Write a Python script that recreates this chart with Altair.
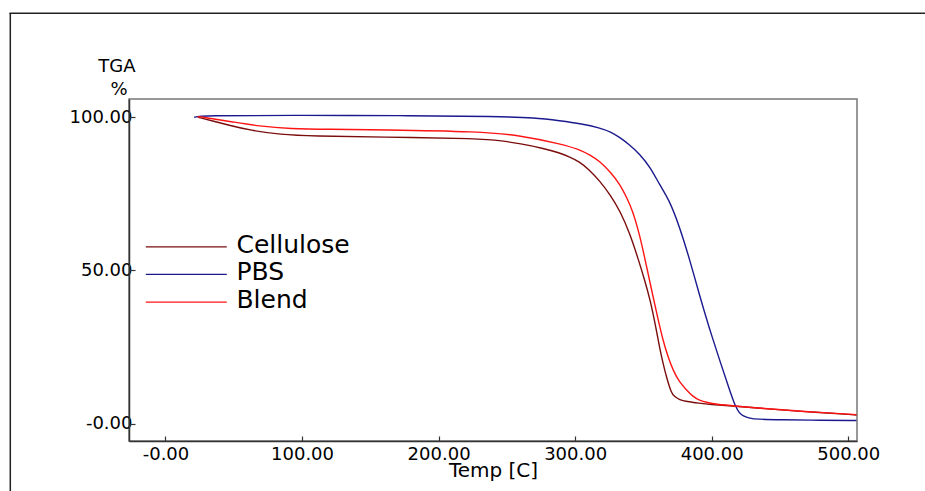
import altair as alt
import pandas as pd

# ---------------- data ----------------
series_names = ["Cellulose", "PBS", "Blend"]
series_colors = ["#7a0c0c", "#1a1a8e", "#ff1414"]

cellulose_temp = [23.6, 25.0, 35.0, 47.0, 62.0, 84.0, 108.0, 157.0, 231.0, 246.0, 260.0,
                  275.0, 289.0, 296.0, 303.0, 310.0, 318.0, 326.0, 333.0, 340.0, 346.0,
                  350.5, 355.0, 359.4, 362.0, 364.5, 366.8, 370.4, 372.8, 376.5, 381.4,
                  391.0, 398.0, 417.0, 440.0, 470.0, 506.0]
cellulose_pct = [100.0, 99.8, 98.7, 97.3, 95.7, 94.3, 93.8, 93.5, 93.0, 92.3, 91.3,
                 90.0, 88.3, 87.0, 85.5, 83.0, 79.2, 74.5, 69.3, 62.1, 54.0,
                 47.5, 40.4, 30.8, 24.5, 19.5, 15.4, 10.0, 8.9, 7.8, 7.3,
                 6.7, 6.3, 5.8, 4.9, 3.9, 2.9]

pbs_temp = [21.0, 25.0, 100.0, 170.0, 245.0, 270.0, 289.0, 305.0, 318.0, 326.0, 333.0,
            340.0, 347.0, 355.0, 362.0, 369.0, 376.5, 384.0, 391.0, 398.0, 406.0,
            413.0, 417.0, 420.0, 423.0, 428.0, 433.0, 450.0, 480.0, 506.0]
pbs_pct = [99.9, 100.5, 100.6, 100.5, 100.2, 99.8, 98.8, 97.8, 96.5, 95.2, 93.3,
           90.9, 88.1, 83.7, 77.8, 72.9, 64.2, 53.4, 42.0, 31.5, 20.5,
           11.1, 6.0, 3.6, 2.5, 1.8, 1.5, 1.3, 1.15, 1.07]

blend_temp = [23.6, 25.0, 32.0, 47.0, 69.0, 91.0, 120.0, 157.0, 231.0, 260.0, 289.0,
              303.0, 311.0, 318.0, 326.0, 333.0, 338.0, 342.0, 347.0, 352.0, 357.0,
              361.0, 364.3, 368.0, 371.6, 376.0, 381.4, 386.0, 391.0, 397.0, 403.0,
              417.0, 440.0, 470.0, 506.0]
blend_pct = [100.0, 100.2, 99.6, 98.6, 97.0, 96.2, 96.0, 95.9, 95.3, 94.0, 91.3,
             89.5, 87.6, 85.6, 82.0, 78.0, 73.5, 69.6, 62.1, 52.0, 41.5,
             33.5, 27.3, 21.8, 17.6, 13.8, 11.1, 9.0, 7.6, 6.9, 6.4,
             5.8, 4.9, 3.95, 3.0]

x_ticks = [0, 100, 200, 300, 400, 500]
y_ticks = [0, 50, 100]

# ---------------- tables ----------------
rows = []
for name, ts, ps in [("Cellulose", cellulose_temp, cellulose_pct),
                     ("PBS", pbs_temp, pbs_pct),
                     ("Blend", blend_temp, blend_pct)]:
    for i, (t, p) in enumerate(zip(ts, ps)):
        rows.append({"series": name, "temp": t, "pct": p, "idx": i})
df = pd.DataFrame(rows)

# legend (placed in data coordinates, upper-left inside the plot)
leg_x1, leg_x2, leg_xt = -14.4, 44.9, 52.0
leg_y0, leg_dy = 57.7, 9.0
legend_df = pd.DataFrame({
    "series": series_names,
    "x1": [leg_x1] * 3,
    "x2": [leg_x2] * 3,
    "xt": [leg_xt] * 3,
    "y": [leg_y0 - i * leg_dy for i in range(3)],
})

W, H = 728, 342
FONT = "DejaVu Sans"
label_expr = "datum.value == 0 ? '-0.00' : format(datum.value, '.2f')"

xscale = alt.Scale(domain=[-26.7, 506.4], nice=False, zero=False)
yscale = alt.Scale(domain=[-5.6, 105.9], nice=False, zero=False)
color = alt.Color("series:N", scale=alt.Scale(domain=series_names, range=series_colors), legend=None)

x_axis = alt.Axis(values=x_ticks, labelExpr=label_expr, ticks=False, tickSize=0,
                  labelPadding=4, labelFontSize=18, labelFont=FONT, labelColor="black",
                  labelFlush=False, labelOverlap=False, labelBound=False,
                  grid=False, domainColor="#333333", domainWidth=1.5,
                  title="Temp [C]", titleFont=FONT, titleFontSize=20,
                  titleFontWeight="normal", titleColor="black",
                  titleY=35, titleBaseline="alphabetic")
y_axis = alt.Axis(values=y_ticks, labelExpr=label_expr, ticks=False, tickSize=0,
                  labelPadding=-3, labelFontSize=18, labelFont=FONT, labelColor="black",
                  labelOverlap=False, labelBound=False,
                  grid=False, domainColor="#333333", domainWidth=1.5,
                  title="TGA", titleFont=FONT, titleFontSize=18,
                  titleFontWeight="normal", titleColor="black", titleAngle=0,
                  titleAlign="right", titleBaseline="alphabetic",
                  titleX=6, titleY=-28)

lines = alt.Chart(df).mark_line(strokeWidth=1.4, interpolate="basis", clip=True).encode(
    x=alt.X("temp:Q", scale=xscale, axis=x_axis),
    y=alt.Y("pct:Q", scale=yscale, axis=y_axis),
    color=color,
    order="idx:Q",
)

# inward ticks: a top axis pulled down onto the bottom edge, a right axis pulled onto the left edge
tick_x_axis = alt.Axis(orient="top", offset=-H, values=x_ticks, labels=False, domain=False,
                       grid=False, ticks=True, tickSize=5, tickColor="#333333",
                       tickWidth=1.2, title=None)
tick_y_axis = alt.Axis(orient="right", offset=-W, values=y_ticks, labels=False, domain=False,
                       grid=False, ticks=True, tickSize=6, tickColor="#333333",
                       tickWidth=1.2, title=None)
ticks = alt.Chart(df).mark_point(opacity=0).encode(
    x=alt.X("temp:Q", scale=xscale, axis=tick_x_axis),
    y=alt.Y("pct:Q", scale=yscale, axis=tick_y_axis),
)

leg_lines = alt.Chart(legend_df).mark_rule(strokeWidth=1.2).encode(
    x=alt.X("x1:Q", scale=xscale, axis=None),
    x2="x2:Q",
    y=alt.Y("y:Q", scale=yscale, axis=None),
    color=color,
)
leg_text = alt.Chart(legend_df).mark_text(align="left", baseline="middle", dy=-2,
                                          font=FONT, fontSize=25, color="black").encode(
    x=alt.X("xt:Q", scale=xscale, axis=None),
    y=alt.Y("y:Q", scale=yscale, axis=None),
    text="series:N",
)

# second line of the y title ("%"), sitting under "TGA"
unit_text = alt.Chart(pd.DataFrame({"t": ["%"]})).mark_text(
    align="center", baseline="alphabetic", font=FONT, fontSize=18, color="black"
).encode(x=alt.value(-10), y=alt.value(-4), text="t:N")

frame_df = pd.DataFrame({"a": [0]})
frame_v = alt.Chart(frame_df).mark_rule(color="#222222", strokeWidth=1.5).encode(
    x=alt.value(-118.7), y=alt.value(-86), y2=alt.value(H + 60))
frame_h = alt.Chart(frame_df).mark_rule(color="#222222", strokeWidth=1.5).encode(
    x=alt.value(-119.5), x2=alt.value(W + 80), y=alt.value(-85.7))

chart = alt.layer(lines, ticks, leg_lines, leg_text, unit_text, frame_v, frame_h).resolve_axis(
    x="independent", y="independent"
).properties(
    width=W, height=H,
    autosize=alt.AutoSizeParams(type="none"),
    padding={"left": 129, "top": 99, "right": 68, "bottom": 50},
    background="white",
).configure_view(stroke="#777777", strokeWidth=1.5)

chart.save("out.html", embed_options={"renderer": "svg", "actions": False})
